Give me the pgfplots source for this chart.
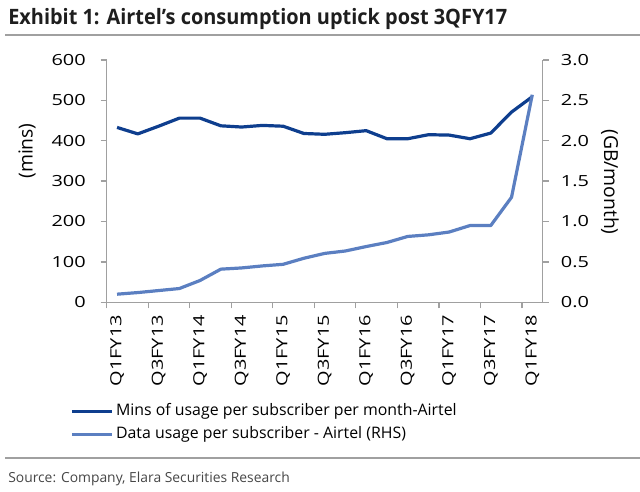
\documentclass[border=0pt]{standalone}
\usepackage{pgfplots}
\pgfplotsset{compat=1.18}
\usepackage{fontspec}
\setmainfont{Open Sans}
\newfontfamily\tickfont{Open Sans}[FakeStretch=1.3]
\newfontfamily\titlefont{Open Sans}[FakeStretch=0.94]
\definecolor{darkline}{RGB}{14,62,142}
\definecolor{lightline}{RGB}{91,127,193}
\definecolor{axgray}{RGB}{160,160,160}
\definecolor{srcgray}{RGB}{70,70,70}
\pgfplotstableread{
x mins data
0 433 0.10
1 417 0.12
2 436 0.145
3 456 0.17
4 456 0.27
5 437 0.41
6 434 0.425
7 438 0.45
8 436 0.47
9 418 0.545
10 416 0.605
11 420 0.635
12 425 0.69
13 405 0.74
14 405 0.815
15 415 0.835
16 414 0.87
17 405 0.95
18 419 0.95
19 471 1.30
20 509 2.57
}\airtel
\pgfplotsset{
  common/.style={
    at={(80pt,142.3pt)}, anchor=south west, scale only axis,
    width=327pt, height=181.7pt,
    xmin=-0.5, xmax=20.5,
    tick align=outside,
    tick style={axgray, line width=1pt},
    major tick length=4.5pt, minor tick length=4.5pt,
    axis line style={axgray, line width=1pt, -},
    tick label style={font=\fontsize{11.5pt}{12pt}\tickfont, text=black},
    /pgf/number format/assume math mode=true,
    clip=false,
  }
}
\begin{document}
\begin{tikzpicture}
\path[use as bounding box] (0,0) rectangle (480pt,369pt);
\node[anchor=base west, inner sep=0pt, font=\fontsize{15.9pt}{18pt}\titlefont\bfseries, text={rgb,255:red,30;green,30;blue,30}] at (6pt,350.5pt) {Exhibit 1: Airtel’s consumption uptick post 3QFY17};
\draw[axgray, line width=1.2pt] (3.75pt,342.75pt) -- (480pt,342.75pt);

\begin{axis}[common,
  ymin=0, ymax=600,
  axis y line*=left, axis x line*=bottom,
  ytick={0,100,...,600},
  yticklabel style={anchor=east, inner sep=0pt},
  yticklabel shift=11pt,
  xtick={0,2,...,20},
  xticklabels={Q1FY13,Q3FY13,Q1FY14,Q3FY14,Q1FY15,Q3FY15,Q1FY16,Q3FY16,Q1FY17,Q3FY17,Q1FY18},
  xticklabel style={rotate=90, anchor=east, inner sep=0pt},
  xticklabel shift=5pt,
  major x tick style={draw=none},
  minor xtick={-0.5,1.5,...,19.5},
]
\addplot[darkline, line width=2.4pt, line join=round] table[x=x, y=mins] {\airtel};
\end{axis}

\begin{axis}[common,
  ymin=0, ymax=3,
  axis y line*=right, axis x line=none,
  ytick={0,0.5,...,3.0},
  yticklabel style={anchor=west, inner sep=0pt, /pgf/number format/.cd, fixed, fixed zerofill, precision=1},
  yticklabel shift=9pt,
  legend style={at={(axis description cs:-0.0842,-0.500)}, anchor=west, draw=none, fill=none,
     inner sep=0pt, row sep=3.25pt, column sep=0pt,
     nodes={inner xsep=2pt, inner ysep=1pt, text height=9pt, text depth=3pt, anchor=west},
     font=\fontsize{11.9pt}{14pt}\selectfont},
  legend cell align=left,
  legend image code/.code={\draw[#1, line width=2.4pt] (0pt,0pt) -- (30pt,0pt);},
]
\addlegendimage{darkline}
\addlegendentry{Mins of usage per subscriber per month-Airtel}
\addplot[lightline, line width=2.4pt, line join=round] table[x=x, y=data] {\airtel};
\addlegendentry{Data usage per subscriber - Airtel (RHS)}
\end{axis}

\node[rotate=90, inner sep=0pt, font=\fontsize{14.5pt}{16pt}\selectfont] at (20.25pt,255.75pt) {(mins)};
\node[rotate=-90, inner sep=0pt, font=\fontsize{14.5pt}{16pt}\selectfont] at (457.5pt,232.5pt) {(GB/month)};

\draw[axgray, line width=1.2pt] (3.75pt,25.5pt) -- (480pt,25.5pt);
\node[anchor=base west, inner sep=0pt, font=\fontsize{10.4pt}{12pt}\selectfont, text=srcgray] at (6pt,7pt) {Source: Company, Elara Securities Research};
\end{tikzpicture}
\end{document}
